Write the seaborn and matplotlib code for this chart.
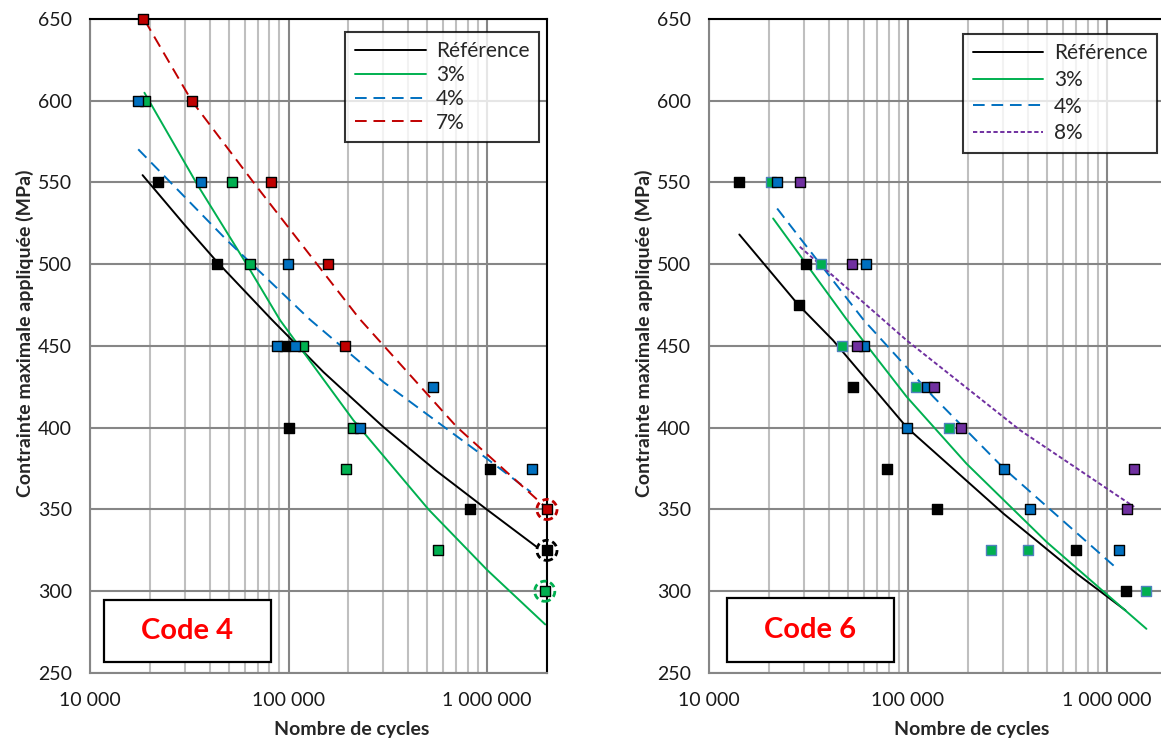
import numpy as np
import pandas as pd
import seaborn as sns
import matplotlib.pyplot as plt
from matplotlib.patches import Rectangle
from matplotlib.ticker import FixedLocator, FuncFormatter, LogLocator, NullFormatter

# ---------- Code 4 : points d'essai ----------
ref4_N = [21900, 43600, 96000, 101000, 1030000, 824000, 2000000]
ref4_S = [550, 500, 450, 400, 375, 350, 325]
p3_4_N = [18900, 52100, 63600, 117600, 212000, 194000, 563000, 1950000]
p3_4_S = [600, 550, 500, 450, 400, 375, 325, 300]
p4_4_N = [17500, 36400, 99000, 87000, 108000, 535000, 229000, 1680000]
p4_4_S = [600, 550, 500, 450, 450, 425, 400, 375]
p7_4_N = [18400, 32700, 81600, 158000, 193000, 2000000]
p7_4_S = [650, 600, 550, 500, 450, 350]
# points entourés (runouts)
circ4_N = [2000000, 2000000, 1950000]
circ4_S = [350, 325, 300]

# ---------- Code 4 : courbes de tendance ----------
cref4_N = [18400, 30000, 43600, 82200, 150000, 300000, 550000, 996000, 1780000]
cref4_S = [554.5, 524, 501.5, 466.2, 434, 400.5, 374, 350, 327]
c3_4_N = [18800, 35000, 61500, 90600, 212000, 507000, 1000000, 1960000]
c3_4_S = [604.9, 548, 500, 465.8, 404.6, 350, 313, 279.7]
c4_4_N = [17500, 48900, 128000, 300000, 922000, 1660000]
c4_4_S = [570.3, 514.7, 466.2, 428, 384.2, 360.7]
c7_4_N = [18900, 32500, 69200, 227000, 703000, 1920000]
c7_4_S = [649, 600, 547.4, 466.8, 400.5, 352.6]

# ---------- Code 6 : points d'essai ----------
ref6_N = [14200, 30900, 28200, 52800, 78100, 140000, 701000, 1240000]
ref6_S = [550, 500, 475, 425, 375, 350, 325, 300]
p3_6_N = [20600, 36500, 46700, 109600, 160000, 261000, 402000, 1580000]
p3_6_S = [550, 500, 450, 425, 400, 325, 325, 300]
p4_6_N = [22000, 61500, 60300, 124000, 99000, 304000, 411000, 1150000]
p4_6_S = [550, 500, 450, 425, 400, 375, 350, 325]
p8_6_N = [28600, 52300, 55200, 135500, 185000, 1370000, 1260000]
p8_6_S = [550, 500, 450, 425, 400, 375, 350]

# ---------- Code 6 : courbes de tendance ----------
cref6_N = [14200, 28200, 42000, 99000, 302000, 706000, 1240000]
cref6_S = [518.2, 475, 453.5, 400, 347.5, 310.7, 288.3]
c3_6_N = [21000, 49200, 98400, 197000, 499000, 1580000]
c3_6_S = [528, 466.2, 419, 378, 330, 277]
c4_6_N = [22000, 59600, 134000, 304000, 1120000]
c4_6_S = [534.1, 466.2, 419, 375, 314]
c8_6_N = [28600, 98400, 366000, 1370000]
c8_6_S = [510.7, 453.5, 398.5, 351.6]

BLACK, GREEN, BLUE, RED, PURPLE = '#000000', '#00B050', '#0070C0', '#C00000', '#7030A0'
GRID = '#868686'

sns.set_style('white')
plt.rcParams['font.family'] = ['Lato', 'DejaVu Sans']

fig = plt.figure(figsize=(11.61, 7.42), dpi=100)
ax1 = fig.add_axes([0.0775, 0.0930, 0.3936, 0.8814])
ax2 = fig.add_axes([0.6107, 0.0930, 0.3943, 0.8814])


def style_axes(ax):
    ax.set_xscale('log')
    ax.set_xlim(1e4, 2e6)
    ax.set_ylim(250, 650)
    ax.xaxis.set_major_locator(FixedLocator([1e4, 1e5, 1e6]))
    ax.xaxis.set_major_formatter(FuncFormatter(lambda v, p: f'{int(round(v)):,}'.replace(',', ' ')))
    ax.xaxis.set_minor_locator(LogLocator(base=10, subs=np.arange(2, 10)))
    ax.xaxis.set_minor_formatter(NullFormatter())
    ax.set_yticks(np.arange(250, 651, 50))
    ax.grid(True, which='major', color=GRID, lw=1.5, zorder=0)
    ax.grid(True, which='minor', axis='x', color='#BFBFBF', lw=1.5, zorder=0)
    ax.set_axisbelow(True)
    for s in ['left', 'bottom']:
        ax.spines[s].set_color(GRID)
        ax.spines[s].set_linewidth(1.5)
    for s in ['top', 'right']:
        ax.spines[s].set_color('black')
        ax.spines[s].set_linewidth(1.5)
    ax.tick_params(axis='both', which='major', direction='out', length=5, width=1.5,
                   color=GRID, labelsize=14, labelcolor='#1a1a1a')
    ax.tick_params(axis='y', pad=8)
    ax.tick_params(axis='x', pad=9)
    ax.tick_params(axis='x', which='minor', length=0)
    ax.set_xlabel('Nombre de cycles', fontsize=14, fontweight='bold')
    ax.set_ylabel('Contrainte maximale appliquée (MPa)', fontsize=14, fontweight='bold')
    ax.xaxis.set_label_coords(0.573, -0.074)
    ax.yaxis.set_label_coords(-0.122, 0.519)


def curve(ax, N, S, color, label, ls):
    sns.lineplot(x=N, y=S, ax=ax, color=color, lw=1.4, linestyle=ls,
                 sort=False, estimator=None, label=label, zorder=2)


def points(ax, N, S, color, edge='black'):
    sc = sns.scatterplot(x=N, y=S, ax=ax, marker='s', s=52, color=color,
                         edgecolor=edge, linewidth=1.0, zorder=3, legend=False)
    sc.collections[-1].set_clip_on(False)


def code_box(ax, x0, w, h, txt):
    ax.add_patch(Rectangle((x0, 0.0168), w, h, transform=ax.transAxes,
                           facecolor='white', edgecolor='black', lw=1.6, zorder=4))
    ax.text(x0 + w / 2, 0.0168 + h / 2, txt, transform=ax.transAxes, ha='center',
            va='center', color='#FF0000', fontsize=21, fontweight='bold', zorder=5)


for ax in (ax1, ax2):
    style_axes(ax)

# ---- Code 4 ----
curve(ax1, cref4_N, cref4_S, BLACK, 'Référence', '-')
curve(ax1, c3_4_N, c3_4_S, GREEN, '3%', '-')
curve(ax1, c4_4_N, c4_4_S, BLUE, '4%', (0, (6, 3.5)))
curve(ax1, c7_4_N, c7_4_S, RED, '7%', (0, (6, 3.5)))
points(ax1, ref4_N, ref4_S, BLACK)
points(ax1, p3_4_N, p3_4_S, GREEN)
points(ax1, p4_4_N, p4_4_S, BLUE)
points(ax1, p7_4_N, p7_4_S, RED)
ax1.scatter(circ4_N, circ4_S, s=210, marker='o', facecolors='none',
            edgecolors=[RED, BLACK, GREEN], linewidths=2.0,
            linestyles=[(0, (2.2, 1.4))], zorder=4, clip_on=False)

# ---- Code 6 ----
curve(ax2, cref6_N, cref6_S, BLACK, 'Référence', '-')
curve(ax2, c3_6_N, c3_6_S, GREEN, '3%', '-')
curve(ax2, c4_6_N, c4_6_S, BLUE, '4%', (0, (6, 3.5)))
curve(ax2, c8_6_N, c8_6_S, PURPLE, '8%', (0, (2.2, 1.3)))
points(ax2, ref6_N, ref6_S, BLACK)
points(ax2, p3_6_N, p3_6_S, GREEN, edge='#4F81BD')
points(ax2, p4_6_N, p4_6_S, BLUE)
points(ax2, p8_6_N, p8_6_S, PURPLE)

for ax, anchor, sp in ((ax1, (0.9825, 0.980), 0.18), (ax2, (0.978, 0.977), 0.32)):
    leg = ax.legend(loc='upper right', bbox_to_anchor=anchor, borderaxespad=0,
                    fontsize=15, frameon=True, fancybox=False, handlelength=3.4,
                    labelspacing=sp, handletextpad=0.5, borderpad=0.45)
    leg.get_frame().set_edgecolor('black')
    leg.get_frame().set_linewidth(1.5)
    leg.set_zorder(6)

code_box(ax1, 0.0306, 0.365, 0.0948, 'Code 4')
code_box(ax2, 0.0393, 0.3646, 0.098, 'Code 6')

plt.savefig('out.png', dpi=100)
